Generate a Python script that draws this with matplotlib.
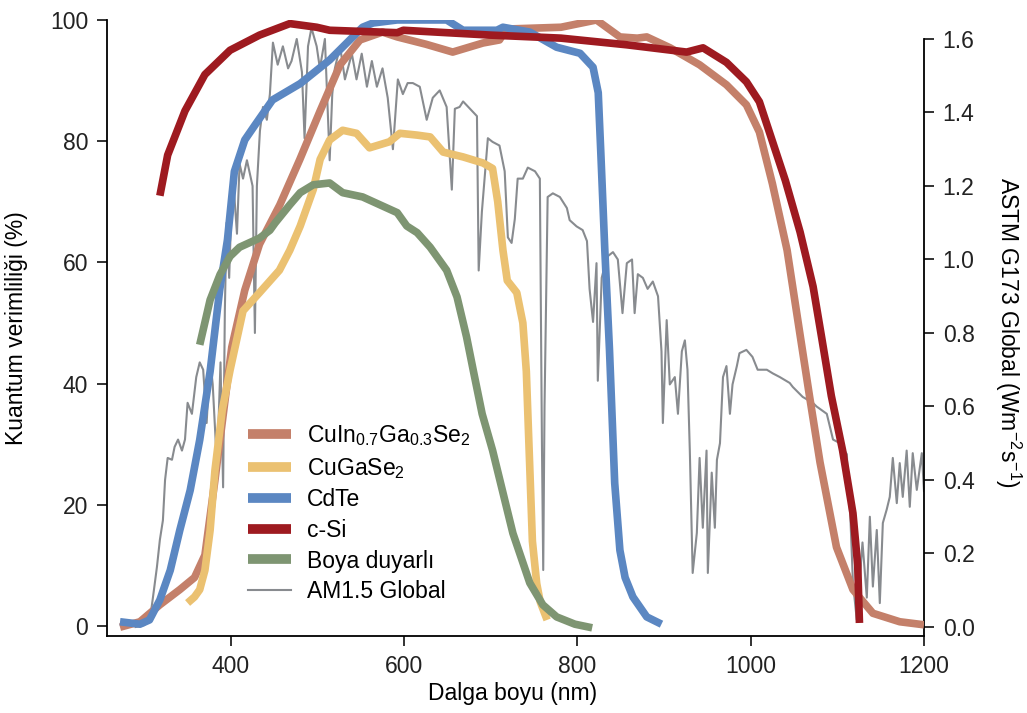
import matplotlib
matplotlib.use("Agg")
import matplotlib.pyplot as plt

plt.rcParams['font.family'] = ['Liberation Sans', 'DejaVu Sans']
plt.rcParams['mathtext.default'] = 'regular'

# quantum efficiency curves (wavelength nm, QE %)
cigs_wl = [272, 295, 318, 341, 358, 370, 381.5, 393, 401, 416, 433, 456.5, 479.6, 503, 526, 549, 575,
           592, 625, 656, 691, 710, 718, 781, 822, 849, 869, 880, 907, 941, 972, 995, 1010, 1025,
           1042, 1057, 1068, 1080, 1099, 1118, 1141, 1172, 1200]
cigs_qe = [-0.2, 0.7, 3.5, 6, 8, 11.7, 24, 37, 46, 55.4, 63, 69.5, 77, 85, 92.6, 96.7, 98,
           97.2, 96, 94.7, 96.2, 96.7, 98.5, 98.8, 100, 97.2, 97, 97.2, 95.4, 92.6, 89.3, 86, 81.5, 73,
           62, 48, 37.8, 27, 13, 6, 2.1, 0.7, 0.2]

cgs_wl = [350, 358, 364, 370, 376, 381.6, 390, 399, 414, 433, 456, 468, 480, 495, 503, 514, 529, 545,
          560, 583, 595, 615, 630, 645, 668, 691, 702, 708, 714, 719, 730, 737, 741, 744, 748, 753,
          757, 765]
cgs_qe = [3.8, 4.8, 6, 9.2, 15.8, 25.7, 35.6, 42.2, 52, 55, 58.7, 62, 66, 72, 77, 80.2, 81.8, 81.3,
          78.9, 79.9, 81.3, 81, 80.7, 78.2, 77.4, 76.4, 75.5, 70, 62, 57, 55, 50, 42, 30, 14, 7,
          4, 1]

cdte_wl = [272, 295, 306, 318, 330, 341, 353, 364, 376, 387, 396, 404, 416, 428, 448, 480, 514, 552,
           564, 592, 649, 668, 707, 714, 745, 776, 803, 818, 824, 827, 831.6, 837, 843, 849, 855,
           864, 880, 897]
cdte_qe = [0.7, 0.3, 1, 4.3, 9.2, 15.8, 22.4, 30.7, 42, 55.4, 63.7, 75, 80.2, 82.7, 86.8, 89.5, 93.4,
           98.8, 99.5, 100, 100, 98.3, 98.3, 98.8, 98, 95.5, 94.5, 92.2, 88, 78, 62, 45.5, 23.6,
           12.5, 8, 4.8, 1.5, 0.3]

csi_wl = [318, 327, 347, 370, 399, 433, 468, 499, 514, 592, 599, 700, 781, 857, 926, 945, 972, 995,
          1010, 1025, 1040, 1057, 1072, 1082, 1093, 1106, 1118, 1123.5, 1125.5]
csi_qe = [71, 77.7, 85, 91, 95, 97.5, 99.4, 98.8, 98.3, 97.9, 98.3, 97.5, 97, 95.9, 94.7, 95.4, 93,
          89.8, 86.5, 80, 73.5, 65, 56, 47.5, 38, 29, 18.6, 10, 0.5]

dssc_wl = [364, 376, 387.5, 399, 410, 433, 445, 451, 468, 480, 495, 514, 529, 552, 572, 592, 603, 615,
           630, 649, 661, 672, 680, 690, 702, 714, 725.5, 745, 760, 776, 797, 817]
dssc_qe = [46.4, 53.8, 58, 61, 62.5, 64, 65.3, 66.5, 69.5, 71.5, 72.8, 73.1, 71.5, 70.8, 69.5, 68.2,
           66, 64.9, 62.5, 58.7, 54.3, 47.7, 42, 35, 29, 22, 15.3, 7.1, 3.5, 1.5, 0.3, -0.3]

# AM1.5 global spectrum (wavelength nm, right axis)
am_wl = [290, 300, 306.5, 310, 314.6, 318, 321.5, 324, 327, 332, 335, 339, 343.5, 347, 350, 355, 360,
         364, 368, 372, 376, 379, 384, 388, 391, 393, 395, 398, 402, 407, 410, 414, 418.5, 425, 427.7,
         430, 433.5, 437, 441.5, 445, 448.5, 454, 460, 466, 470, 476, 482, 485, 489, 493, 499, 502.7,
         508.5, 514, 517, 520, 526, 531.6, 539.6, 545, 551, 557, 562.7, 568.5, 575, 581, 587, 592.7,
         598.5, 604, 610, 618, 626, 633, 641, 649, 655, 658.5, 664, 668, 676, 684, 686, 689.7, 696.6,
         702, 710, 716, 719.7, 724, 727.7, 731, 737, 742.7, 751, 756.6, 759, 760.5, 762, 765.6, 771.6,
         779.7, 787.8, 791, 799, 806, 811, 814, 818, 822, 823.5, 828, 834, 841, 846.6, 852, 857, 863,
         866, 869.7, 875.5, 881, 887, 893, 897, 898.6, 903, 906.6, 912.4, 916, 920.5, 924, 927, 929.7,
         933, 937.8, 941, 944.7, 949, 950.5, 955, 958.6, 961, 964.5, 968, 972, 976, 979, 984, 987, 995,
         1002, 1008, 1018.6, 1025.5, 1033.6, 1045, 1048.6, 1060, 1071.7, 1076, 1087.8, 1095, 1103,
         1111, 1112, 1115, 1118, 1122.4, 1129, 1134, 1137.5, 1141, 1145.5, 1149, 1152.5, 1157, 1160.5,
         1164, 1168.6, 1172, 1175.5, 1180, 1183.6, 1187, 1191.7, 1197.5, 1200]
am_irr = [0.0, 0.005, 0.02, 0.08, 0.163, 0.237, 0.29, 0.4, 0.46, 0.455, 0.49, 0.51, 0.48, 0.51, 0.61,
          0.58, 0.68, 0.72, 0.70, 0.555, 0.73, 0.66, 0.435, 0.72, 0.38, 0.86, 1.1, 0.95, 1.24, 1.07, 1.26,
          1.22, 1.27, 1.2, 0.8, 1.2, 1.35, 1.415, 1.38, 1.45, 1.59, 1.53, 1.58, 1.52, 1.54, 1.6, 1.51,
          1.33, 1.58, 1.63, 1.58, 1.52, 1.6, 1.27, 1.45, 1.52, 1.58, 1.49, 1.56, 1.49, 1.56, 1.47, 1.54,
          1.47, 1.52, 1.44, 1.3, 1.49, 1.45, 1.48, 1.48, 1.47, 1.38, 1.44, 1.46, 1.415, 1.19, 1.41,
          1.415, 1.43, 1.41, 1.39, 0.97, 1.13, 1.33, 1.32, 1.31, 1.24, 1.06, 1.045, 1.11, 1.22, 1.22,
          1.25, 1.24, 1.22, 0.5, 0.155, 0.6, 1.17, 1.18, 1.17, 1.14, 1.107, 1.09, 1.08, 1.05, 0.92, 0.83,
          0.99, 0.67, 0.95, 1.007, 1.02, 1.0, 0.854, 0.99, 1.0, 0.854, 0.96, 0.95, 0.92, 0.94, 0.90,
          0.75, 0.555, 0.835, 0.66, 0.68, 0.58, 0.75, 0.78, 0.70, 0.48, 0.147, 0.256, 0.46, 0.27, 0.48,
          0.147, 0.42, 0.27, 0.455, 0.5, 0.68, 0.71, 0.58, 0.66, 0.71, 0.745, 0.754, 0.735, 0.70, 0.70,
          0.69, 0.68, 0.664, 0.653, 0.626, 0.61, 0.6, 0.58, 0.51, 0.5, 0.47, 0.40, 0.3, 0.12, 0.02,
          0.23, 0.08, 0.30, 0.11, 0.264, 0.065, 0.283, 0.32, 0.354, 0.46, 0.337, 0.446, 0.354, 0.48,
          0.327, 0.473, 0.373, 0.473, 0.37]

labels = ["CuIn$_{0.7}$Ga$_{0.3}$Se$_2$", "CuGaSe$_2$", "CdTe", "c-Si", "Boya duyarlı", "AM1.5 Global"]
colors = ["#C4806A", "#EBC171", "#5B87C2", "#9E1A20", "#7E9572", "#888B8F"]

fig = plt.figure(figsize=(10.27, 7.13), dpi=100)
ax = fig.add_axes([0.1042, 0.108, 0.7955, 0.864])
ax2 = ax.twinx()
ax.set_zorder(ax2.get_zorder() + 1)
ax.patch.set_visible(False)

am, = ax2.plot(am_wl, am_irr, color=colors[5], lw=1.5, label=labels[5])

lines = []
for wl, qe, c, lab in zip([cigs_wl, cgs_wl, cdte_wl, csi_wl, dssc_wl],
                          [cigs_qe, cgs_qe, cdte_qe, csi_qe, dssc_qe], colors[:5], labels[:5]):
    l, = ax.plot(wl, qe, color=c, lw=5.5, label=lab, solid_capstyle='butt')
    lines.append(l)

ax.set_xlim(257, 1200)
ax.set_ylim(-1.65, 100)
ax2.set_ylim(-0.0245, 1.6517)
ax.set_xticks([400, 600, 800, 1000, 1200])
ax.set_yticks([0, 20, 40, 60, 80, 100])
ax2.set_yticks([0.0, 0.2, 0.4, 0.6, 0.8, 1.0, 1.2, 1.4, 1.6])
ax2.set_yticklabels(["%.1f" % v for v in [0.0, 0.2, 0.4, 0.6, 0.8, 1.0, 1.2, 1.4, 1.6]])

for s in ['top', 'right']:
    ax.spines[s].set_visible(False)
for s in ['top', 'left', 'bottom']:
    ax2.spines[s].set_visible(False)
ax2.spines['right'].set_bounds(-0.0245, 1.6)
for s in [ax.spines['left'], ax.spines['bottom'], ax2.spines['right']]:
    s.set_linewidth(1.3)

ax.tick_params(direction='out', length=7.5, width=1.3, labelsize=16.5, pad=6, colors='#222222')
ax2.tick_params(direction='out', length=7.5, width=1.3, labelsize=16.5, pad=6, colors='#222222')

ax.set_xlabel("Dalga boyu (nm)", fontsize=16.5)
ax.xaxis.set_label_coords(0.497, -0.074)
ax.set_ylabel("Kuantum verimliliği (%)", fontsize=16.5)
ax.yaxis.set_label_coords(-0.097, 0.5)
ax2.set_ylabel("ASTM G173 Global (Wm$^{-2}$s$^{-1}$)", fontsize=16.5, rotation=270)
ax2.yaxis.set_label_coords(1.122, 0.493)

leg = ax.legend(lines + [am], labels, loc='upper left', bbox_to_anchor=(0.172, 0.345),
                frameon=False, fontsize=16.5, handlelength=1.9, handletextpad=0.7,
                labelspacing=0.33, borderpad=0, borderaxespad=0)
for h in leg.get_lines()[:5]:
    h.set_linewidth(7)

fig.savefig("out.png", dpi=100)
